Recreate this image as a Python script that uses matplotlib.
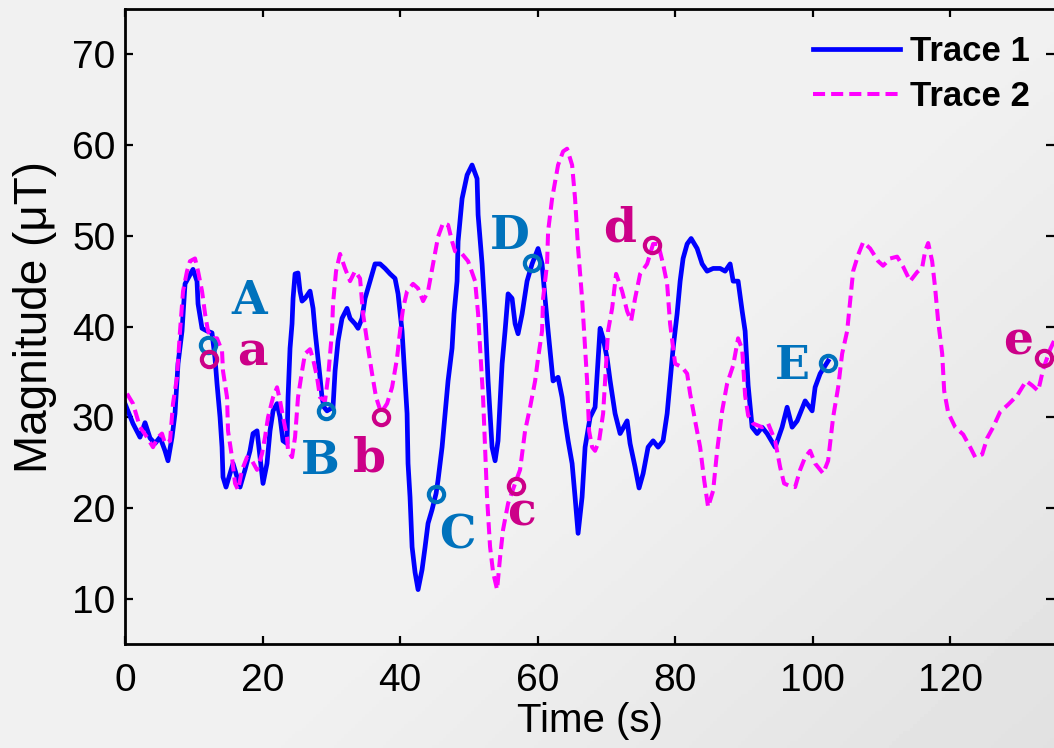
import numpy as np
import matplotlib
matplotlib.use('agg')
import matplotlib.pyplot as plt

# trace 1 (solid blue), time in s, magnitude in uT
t1 = [0, 1.16, 2.18, 2.91, 3.64, 4.36, 5.09, 5.82, 6.25, 6.84, 7.27, 7.71, 8.29, 8.73, 9.16,
      9.89, 10.47, 10.62, 11.2, 11.93, 12.65, 13.09, 13.38, 13.82, 14.11, 14.25, 14.69, 15.27,
      15.71, 16.29, 16.73, 17.45, 18.18, 18.62, 19.2, 19.64, 20.07, 20.65, 21.09, 21.53, 22.11,
      22.55, 22.98, 23.56, 23.71, 24.0, 24.29, 24.44, 24.73, 25.16, 25.45, 25.75, 26.18, 26.91,
      27.35, 27.64, 28.07, 28.36, 28.65, 28.95, 29.38, 30.25, 30.55, 30.98, 31.56, 32.29, 32.73,
      33.45, 33.89, 34.47, 34.91, 35.64, 36.36, 37.09, 37.82, 38.55, 39.27, 39.71, 40.29, 40.73,
      41.02, 41.16, 41.45, 41.75, 42.18, 42.62, 43.2, 43.64, 44.07, 44.65, 45.24, 45.53, 46.11,
      46.55, 46.98, 47.56, 47.85, 48.29, 48.44, 49.02, 49.75, 50.47, 51.2, 51.35, 51.93, 52.36,
      52.8, 53.38, 53.82, 54.25, 54.84, 55.27, 55.71, 56.29, 56.73, 57.16, 57.75, 58.47, 59.2,
      60.07, 60.65, 61.09, 61.53, 62.25, 62.98, 63.56, 64.0, 64.44, 65.02, 65.45, 65.89, 66.47,
      66.91, 67.64, 68.36, 69.09, 69.53, 70.11, 70.55, 71.27, 72.0, 73.02, 73.45, 74.18, 74.76,
      75.35, 76.07, 76.8, 77.53, 78.25, 78.84, 79.27, 79.71, 80.29, 80.73, 81.16, 81.75, 82.33,
      83.2, 83.93, 84.65, 85.53, 86.55, 87.27, 88.0, 88.44, 89.16, 89.75, 90.18, 90.62, 91.2,
      91.93, 92.65, 93.38, 94.55, 95.56, 96.29, 97.02, 97.75, 98.91, 99.93, 100.36, 101.09, 102.25]
y1 = [31.5, 29.3, 27.8, 29.4, 27.7, 27.1, 27.8, 26.3, 25.2, 27.8, 30.4, 35.9, 39.5, 44.7, 45.3,
      46.3, 45.0, 42.5, 39.8, 39.5, 39.3, 36.5, 33.7, 30.0, 26.7, 23.4, 22.3, 23.8,
      24.9, 23.4, 22.3, 24.2, 26.3, 28.2, 28.5, 25.6, 22.7, 24.9, 28.5, 30.7, 31.5,
      30.0, 27.4, 27.1, 32.2, 37.6, 40.3, 43.1, 45.8, 45.9, 43.9, 42.8, 43.1, 43.9,
      42.0, 39.5, 36.5, 34.4, 32.2, 31.1, 30.7, 31.1, 35.1, 38.4, 40.9, 42.0, 40.9,
      40.3, 39.8, 40.9, 43.1, 45.0, 46.9, 46.9, 46.4, 45.8, 45.3, 43.6, 39.5, 34.0,
      30.4, 24.9, 21.2, 15.7, 12.9, 11.0, 13.2, 15.7, 18.3, 19.8, 21.6, 23.1, 26.7,
      30.4, 34.0, 37.6, 41.4, 45.0, 49.4, 54.1, 56.7, 57.8, 56.3, 52.3, 46.9, 41.4,
      34.0, 26.7, 25.2, 27.4, 35.9, 39.5, 43.6, 43.1, 40.3, 39.2, 41.4, 45.0, 46.9,
      48.6, 46.9, 43.1, 39.5, 34.0, 34.4, 32.2, 29.6, 27.4, 24.9, 21.2, 17.2, 21.2,
      26.7, 30.0, 31.1, 39.8, 38.7, 36.5, 34.0, 30.4, 28.2, 29.6, 27.1, 24.5, 22.2,
      23.8, 26.7, 27.4, 26.7, 27.4, 30.4, 34.0, 37.6, 41.4, 45.0, 47.5, 49.1, 49.7,
      48.6, 46.9, 46.1, 46.4, 46.4, 46.1, 46.9, 45.0, 45.0, 41.7, 39.5, 33.5, 28.9,
      28.2, 28.9, 28.2, 26.7, 28.9, 31.1, 28.9, 29.6, 31.8, 30.7, 33.3, 34.8, 36.2]

# trace 2 (dashed magenta)
t2 = [0.29, 1.16, 2.18, 3.2, 4.07, 4.8, 5.38, 5.82, 6.55, 6.98, 7.56, 8.0, 8.44, 9.02, 9.45,
      10.18, 10.62, 11.2, 11.64, 12.07, 12.65, 13.38, 14.11, 14.25, 14.84, 14.98, 15.56, 16.0,
      16.44, 17.02, 17.75, 18.47, 19.2, 19.93, 20.36, 20.8, 21.53, 22.11, 22.55, 22.98, 23.56,
      23.71, 24.29, 24.73, 25.16, 25.75, 26.18, 26.91, 27.35, 27.93, 28.36, 29.09, 29.53, 30.11,
      30.25, 30.69, 31.27, 32.0, 32.73, 33.45, 34.18, 34.62, 35.35, 35.93, 36.51, 37.24, 38.11,
      38.84, 39.56, 40.0, 40.44, 41.02, 41.89, 42.62, 43.35, 44.07, 44.8, 45.53, 46.25, 46.98,
      47.56, 48.0, 49.02, 49.89, 50.91, 51.35, 51.64, 52.07, 52.36, 52.65, 53.09, 53.53, 54.11,
      54.55, 54.98, 55.71, 56.73, 57.45, 58.18, 58.91, 59.64, 60.07, 60.65, 60.8, 61.38, 61.53,
      62.11, 62.55, 62.98, 63.71, 64.29, 65.02, 65.45, 65.89, 66.47, 66.76, 67.2, 67.49, 67.93,
      68.36, 68.95, 69.53, 69.82, 70.25, 70.84, 71.42, 72.29, 73.02, 73.6, 74.18, 74.91, 75.93,
      76.8, 77.53, 78.25, 78.84, 79.27, 80.0, 81.02, 81.75, 82.18, 82.91, 83.64, 84.22, 84.8,
      85.53, 86.11, 86.84, 87.56, 88.44, 89.16, 89.75, 90.18, 90.62, 91.35, 92.65, 93.53, 94.55,
      95.27, 95.85, 96.73, 97.45, 98.18, 98.91, 99.64, 100.36, 101.53, 102.25, 102.98, 103.71,
      104.29, 105.02, 105.45, 105.89, 106.62, 107.35, 108.36, 109.53, 110.25, 111.27, 112.29,
      113.16, 114.18, 115.2, 115.93, 116.36, 116.8, 117.38, 117.82, 118.25, 118.84, 119.13,
      119.71, 120.73, 121.89, 122.91, 123.64, 124.65, 125.38, 126.25, 127.27, 128.44, 129.75,
      131.05, 131.93, 132.8, 133.53, 134.55, 135.1]
y2 = [32.6, 31.5, 28.9, 27.8, 26.7, 27.8, 28.2, 27.1, 27.4, 31.5, 34.4, 39.5, 43.9, 46.1, 47.2,
      47.5, 46.1, 43.9, 41.4, 39.5, 38.7, 38.7, 37.3, 35.1, 32.2, 28.5, 25.6, 22.7,
      22.0, 24.2, 25.6, 25.2, 24.2, 26.0, 27.8, 30.0, 32.2, 33.3, 31.8, 30.0, 27.8,
      26.3, 25.6, 27.8, 32.2, 35.1, 37.0, 37.5, 36.4, 34.4, 32.2, 31.8, 34.4, 39.5,
      42.5, 46.1, 48.0, 46.4, 45.0, 46.1, 45.3, 41.4, 37.6, 34.8, 32.2, 30.5, 31.5,
      33.3, 36.5, 39.5, 42.0, 43.9, 44.7, 44.2, 42.8, 43.9, 46.9, 49.9, 51.4, 51.2,
      49.4, 48.3, 48.0, 47.2, 45.0, 41.4, 37.6, 32.2, 26.7, 21.2, 15.7, 12.9, 11.0,
      14.6, 17.6, 20.5, 22.7, 24.2, 28.5, 31.1, 34.0, 36.5, 39.5, 43.1, 46.9, 50.5,
      54.1, 56.0, 57.8, 59.3, 59.6, 57.8, 54.1, 48.6, 43.1, 39.5, 34.0, 28.5, 26.7,
      26.3, 27.4, 30.4, 34.0, 39.5, 42.0, 45.8, 43.9, 41.7, 40.6, 43.1, 45.8, 46.9,
      49.1, 49.1, 46.9, 44.7, 40.3, 35.9, 35.5, 34.8, 32.6, 29.6, 26.7, 23.1, 20.1,
      21.9, 26.3, 30.7, 33.7, 35.7, 38.7, 37.5, 32.4, 30.2, 29.3, 28.9, 29.3, 27.4,
      24.5, 22.7, 22.4, 22.3, 24.2, 25.6, 26.3, 24.9, 23.8, 25.2, 30.0, 33.3,
      37.0, 39.5, 42.8, 46.1, 47.9, 49.3, 48.6, 47.2, 46.7, 47.5, 47.7,
      46.6, 45.0, 46.0, 46.5, 48.3, 49.2, 47.2, 44.2, 40.6, 37.0, 32.9,
      30.5, 28.9, 28.1, 26.7, 25.6, 25.9, 27.7, 28.9, 30.6, 31.4, 32.4,
      34.0, 33.5, 32.9, 35.3, 37.5, 38.4]

# marked points and their labels
mark_t1 = [12.07, 29.24, 45.24, 59.2, 102.25]
mark_y1 = [38.0, 30.7, 21.5, 47.0, 36.0]
mark_t2 = [12.22, 37.24, 56.87, 76.65, 133.67]
mark_y2 = [36.4, 30.0, 22.4, 49.0, 36.5]
labels1 = ['A', 'B', 'C', 'D', 'E']
labels2 = ['a', 'b', 'c', 'd', 'e']
lab_t1 = [18.0, 28.4, 48.3, 56.0, 97.0]
lab_y1 = [42.8, 25.2, 17.0, 50.0, 35.7]
lab_t2 = [18.5, 35.5, 57.7, 72.0, 129.9]
lab_y2 = [37.1, 25.5, 19.5, 50.8, 38.4]

col1 = '#0000FF'
col2 = '#FF00FF'
mk1 = '#0072BC'
mk2 = '#CC0088'

plt.rcParams['font.family'] = ['Liberation Sans', 'DejaVu Sans']

fig = plt.figure(figsize=(10.54, 7.48), dpi=100)
fig.patch.set_facecolor('#EFEFEF')

# soft grey background, darker to the lower right
gx, gy = np.meshgrid(np.linspace(0, 1, 300), np.linspace(0, 1, 220))
shade = np.clip((gx * 0.9 + gy * 0.7) - 0.9, 0, 1)
bg = fig.add_axes([0, 0, 1, 1], zorder=-10)
bg.imshow(0.945 - 0.09 * shade, cmap='gray', vmin=0, vmax=1, aspect='auto')
bg.axis('off')

ax = fig.add_axes([0.1186, 0.139, 0.8814, 0.849])
ax.patch.set_alpha(0)

ax.plot(t1, y1, color=col1, lw=3.4, label='Trace 1', solid_joinstyle='round')
ax.plot(t2, y2, color=col2, lw=2.9, ls=(0, (3, 1.5)), label='Trace 2')

ax.plot(mark_t1, mark_y1, 'o', ms=11, mfc='none', mec=mk1, mew=3, zorder=5)
ax.plot(mark_t2, mark_y2, 'o', ms=11, mfc='none', mec=mk2, mew=3, zorder=5)
for s, x, y in zip(labels1, lab_t1, lab_y1):
    ax.text(x, y, s, color=mk1, fontsize=33, fontweight='bold', family='DejaVu Serif',
            ha='center', va='center')
for s, x, y in zip(labels2, lab_t2, lab_y2):
    ax.text(x, y, s, color=mk2, fontsize=34, fontweight='bold', family='DejaVu Serif',
            ha='center', va='center')

ax.set_xlim(0, 135.1)
ax.set_ylim(5, 75)
ax.set_xticks(range(0, 121, 20))
ax.set_yticks(range(10, 71, 10))
ax.tick_params(direction='in', length=6, width=1.6, labelsize=28, top=True, right=True)
ax.tick_params(axis='x', pad=14)
ax.tick_params(axis='y', pad=7)
ax.spines['right'].set_visible(False)
for sp in ['left', 'top', 'bottom']:
    ax.spines[sp].set_linewidth(2)

ax.set_xlabel('Time (s)', fontsize=29, labelpad=2)
ax.set_ylabel('Magnitude (\u03bcT)', fontsize=33)
ax.yaxis.set_label_coords(-0.073, 0.515)

leg = ax.legend(loc='upper right', bbox_to_anchor=(1.008, 1.008), frameon=False,
                prop={'size': 25, 'weight': 'bold'}, handlelength=2.5,
                handletextpad=0.3, labelspacing=0.35)

fig.savefig('out.png', dpi=100)
